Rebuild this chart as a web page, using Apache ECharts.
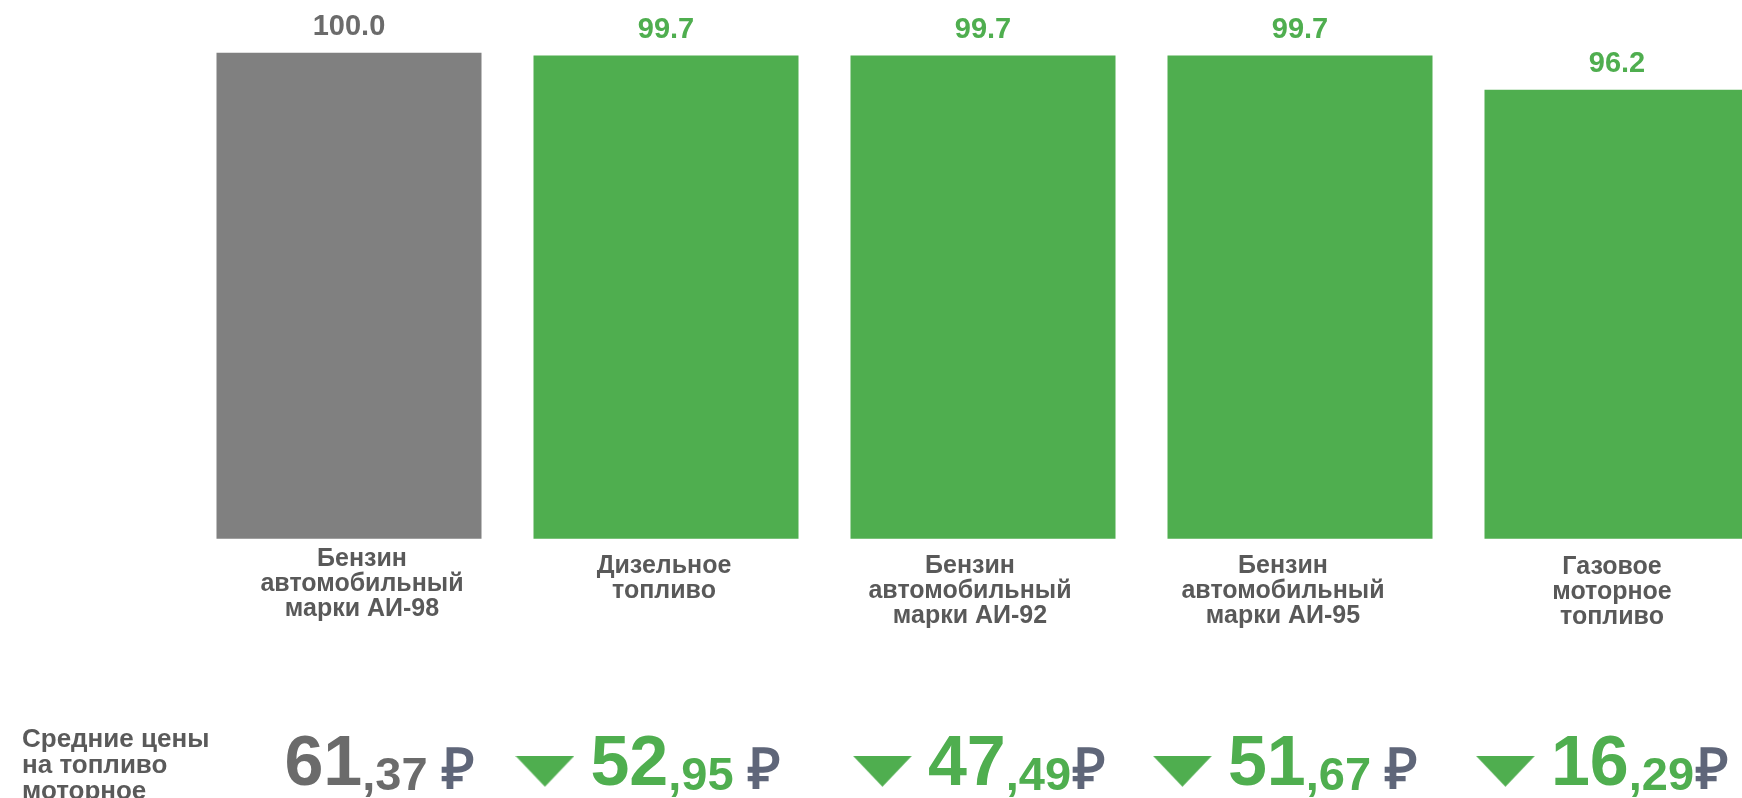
<!DOCTYPE html>
<html><head><meta charset="utf-8">
<script src="https://cdn.jsdelivr.net/npm/echarts@6/dist/echarts.min.js"></script>
<style>html,body{margin:0;padding:0;background:#fff}#c{width:1742px;height:798px}</style>
</head><body><div id="c"></div>
<script>
// ---- data ----
const categories = ['Бензин\nавтомобильный\nмарки АИ-98', 'Дизельное\nтопливо', 'Бензин\nавтомобильный\nмарки АИ-92', 'Бензин\nавтомобильный\nмарки АИ-95', 'Газовое\nмоторное\nтопливо'];
const indexValues = [100.0, 99.7, 99.7, 99.7, 96.2];
const prices = [61.37, 52.95, 47.49, 51.67, 16.29];
const priceTrend = ['none', 'down', 'down', 'down', 'down'];
const rubleSpace = [true, true, false, true, false];
const sideTitle = 'Средние цены\nна топливо\nмоторное';

// ---- styles ----
const FONT = "'Liberation Sans', Arial, sans-serif";
const GREEN = '#4fae4f', GRAY = '#808080', GRAY_TXT = '#6b6b6b', CAT_TXT = '#595959', RUB = '#5f6679';
const catShift = [[0, 0, 0, 26], [7, 4, 0, 0], [7, 26, 0, 0], [7, 34, 0, 0], [8, 10, 0, 0]];
const priceShift = [[0, 0, 0, 61], [0, 36, 0, 0], [0, 7, 0, 0], [0, 29, 0, 0], [0, 29, 0, 0]];

const tri = document.createElement('canvas');
tri.width = 59; tri.height = 45;
(function () { const g = tri.getContext('2d'); g.fillStyle = GREEN; g.beginPath(); g.moveTo(0, 0); g.lineTo(59, 0); g.lineTo(29.5, 31); g.closePath(); g.fill(); })();

const barData = indexValues.map((v, i) => ({
  value: v,
  itemStyle: { color: priceTrend[i] === 'down' ? GREEN : GRAY },
  label: { color: priceTrend[i] === 'down' ? GREEN : GRAY_TXT }
}));

const chart = echarts.init(document.getElementById('c'), null, { renderer: 'canvas' });
chart.setOption({
  animation: false,
  backgroundColor: '#fff',
  title: {
    text: sideTitle, left: 17, top: 722,
    textStyle: { fontFamily: FONT, fontSize: 26, fontWeight: 'bold', lineHeight: 26, color: '#5a5a5a' }
  },
  grid: { left: 190.5, width: 1585, top: 52.7, bottom: 259.3, containLabel: false, outerBoundsMode: 'none' },
  xAxis: [{
    type: 'category',
    data: categories.map((c, i) => ({ value: c, textStyle: { padding: catShift[i] } })),
    axisLine: { show: false }, axisTick: { show: false },
    axisLabel: { interval: 0, margin: 7.5, fontFamily: FONT, fontSize: 25, lineHeight: 25, fontWeight: 'bold', color: CAT_TXT }
  }, {
    type: 'category', position: 'bottom', offset: 192,
    data: categories.map((c, i) => ({ value: c, textStyle: { padding: priceShift[i] } })),
    axisLine: { show: false }, axisTick: { show: false },
    axisLabel: {
      interval: 0, margin: 0,
      formatter: function (value, idx) {
        const p = prices[idx];
        const whole = Math.floor(p);
        const frac = p.toFixed(2).split('.')[1];
        const c = priceTrend[idx] === 'down' ? 'G' : 'N';
        let s = '';
        if (priceTrend[idx] === 'down') s += '{tri|}{gap|}';
        s += '{big' + c + '|' + whole + '}{small' + c + '|,' + frac + '}';
        s += (rubleSpace[idx] ? '{rgap|}' : '{rgap0|}') + '{rub|₽}';
        return s;
      },
      rich: {
        tri: { width: 59, height: 45, backgroundColor: { image: tri }, verticalAlign: 'bottom' },
        gap: { width: 16, height: 10, verticalAlign: 'bottom' },
        rgap: { width: 14, height: 10, verticalAlign: 'bottom' },
        rgap0: { width: 2, height: 10, verticalAlign: 'bottom' },
        bigG: { fontFamily: FONT, fontSize: 70, fontWeight: 'bold', color: GREEN, lineHeight: 70, verticalAlign: 'bottom' },
        bigN: { fontFamily: FONT, fontSize: 70, fontWeight: 'bold', color: GRAY_TXT, lineHeight: 70, verticalAlign: 'bottom' },
        smallG: { fontFamily: FONT, fontSize: 47, fontWeight: 'bold', color: GREEN, lineHeight: 60, verticalAlign: 'bottom' },
        smallN: { fontFamily: FONT, fontSize: 47, fontWeight: 'bold', color: GRAY_TXT, lineHeight: 60, verticalAlign: 'bottom' },
        rub: { fontFamily: FONT, fontSize: 56, fontWeight: 'bold', color: RUB, lineHeight: 56, verticalAlign: 'bottom' }
      }
    }
  }],
  yAxis: { type: 'value', min: 50, max: 100, show: false, splitLine: { show: false } },
  series: [{
    type: 'bar', xAxisIndex: 0, barWidth: 265,
    data: barData,
    label: {
      show: true, position: 'top', distance: 11,
      fontFamily: FONT, fontSize: 29, fontWeight: 'bold',
      formatter: p => p.value.toFixed(1)
    }
  }]
});
</script></body></html>
